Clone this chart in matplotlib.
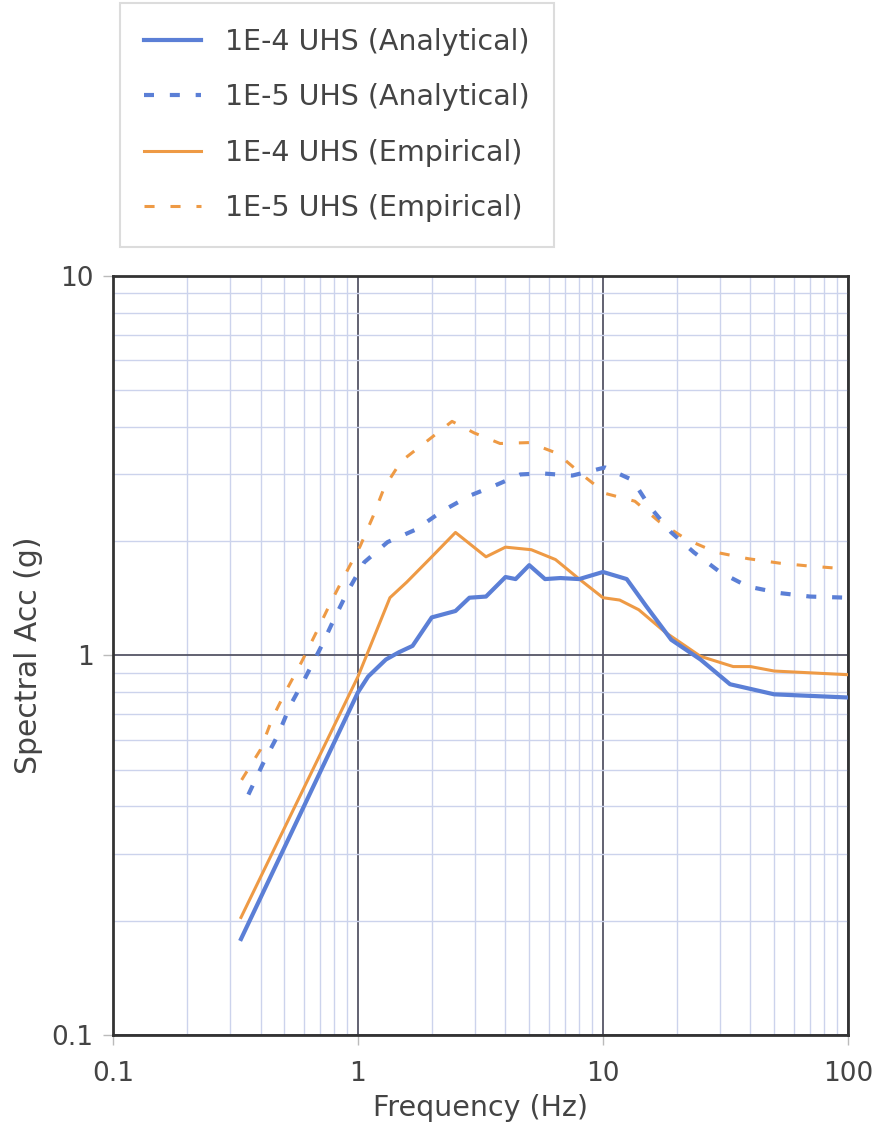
import matplotlib
matplotlib.use("Agg")
import matplotlib.pyplot as plt
from matplotlib.ticker import LogLocator, NullFormatter, FixedLocator, FixedFormatter

plt.rcParams['font.family'] = ['DejaVu Sans']

# 1E-4 UHS (Analytical)
f_a4 = [0.333, 1.0, 1.1, 1.3, 1.47, 1.67, 2.0, 2.5, 2.85, 3.33, 4.0, 4.4, 5.0, 5.8, 6.7, 8.0,
        10.0, 12.5, 15.0, 19.0, 25.0, 33.0, 50.0, 100.0]
v_a4 = [0.179, 0.80, 0.88, 0.976, 1.02, 1.06, 1.26, 1.31, 1.42, 1.43, 1.61, 1.59, 1.73, 1.59, 1.60, 1.59,
        1.66, 1.59, 1.35, 1.10, 0.976, 0.84, 0.79, 0.775]

# 1E-5 UHS (Analytical)
f_a5 = [0.357, 0.41, 0.47, 0.53, 0.61, 0.71, 0.80, 0.91, 1.06, 1.32, 1.73, 2.2, 2.87, 3.6, 4.6, 5.6,
        7.5, 10.2, 13.2, 15.5, 19.0, 23.5, 30.0, 39.0, 53.0, 70.0, 100.0]
v_a5 = [0.43, 0.52, 0.615, 0.74, 0.875, 1.06, 1.25, 1.48, 1.76, 1.99, 2.15, 2.4, 2.64, 2.8, 3.0, 3.02,
        2.98, 3.13, 2.9, 2.47, 2.11, 1.87, 1.66, 1.52, 1.46, 1.43, 1.42]

# 1E-4 UHS (Empirical)
f_e4 = [0.333, 1.0, 1.35, 1.58, 2.0, 2.5, 3.33, 4.0, 5.1, 6.4, 8.0, 10.0, 11.7, 14.0, 18.0, 25.0,
        34.0, 40.0, 50.0, 100.0]
v_e4 = [0.204, 0.88, 1.42, 1.56, 1.82, 2.11, 1.82, 1.93, 1.90, 1.79, 1.59, 1.42, 1.40, 1.32, 1.15, 0.995,
        0.935, 0.935, 0.91, 0.89]

# 1E-5 UHS (Empirical)
f_e5 = [0.335, 0.40, 0.45, 0.51, 0.59, 0.68, 0.77, 0.88, 1.02, 1.15, 1.28, 1.5, 1.9, 2.42, 2.98, 3.8,
        5.0, 6.5, 8.3, 10.3, 13.5, 17.0, 22.0, 29.0, 39.0, 53.0, 70.0, 100.0]
v_e5 = [0.47, 0.565, 0.69, 0.81, 0.965, 1.16, 1.37, 1.62, 1.94, 2.32, 2.77, 3.25, 3.66, 4.14, 3.86, 3.62,
        3.64, 3.41, 2.98, 2.67, 2.55, 2.25, 2.02, 1.87, 1.80, 1.75, 1.72, 1.69]

labels = ["1E-4 UHS (Analytical)", "1E-5 UHS (Analytical)",
          "1E-4 UHS (Empirical)", "1E-5 UHS (Empirical)"]
x_ticks = [0.1, 1, 10, 100]
x_ticklabels = ["0.1", "1", "10", "100"]
y_ticks = [0.1, 1, 10]
y_ticklabels = ["0.1", "1", "10"]

blue = "#5b7fd6"
orange = "#ee9a45"
text_col = '#444444'

fig = plt.figure(figsize=(8.76, 11.29), dpi=100)
ax = fig.add_axes([0.129, 0.0833, 0.839, 0.6722])
ax.set_xscale('log')
ax.set_yscale('log')
ax.set_xlim(0.1, 100)
ax.set_ylim(0.1, 10)

lw_b = 3.0
lw_o = 2.2
l1, = ax.plot(f_a4, v_a4, color=blue, lw=lw_b, zorder=4)
l2, = ax.plot(f_a5, v_a5, color=blue, lw=lw_b, linestyle=(0, (2.4, 3.8)), zorder=4)
l3, = ax.plot(f_e4, v_e4, color=orange, lw=lw_o, zorder=3)
l4, = ax.plot(f_e5, v_e5, color=orange, lw=lw_o, linestyle=(0, (3.3, 5.2)), zorder=3)

ax.xaxis.set_major_locator(FixedLocator(x_ticks))
ax.xaxis.set_major_formatter(FixedFormatter(x_ticklabels))
ax.yaxis.set_major_locator(FixedLocator(y_ticks))
ax.yaxis.set_major_formatter(FixedFormatter(y_ticklabels))
ax.xaxis.set_minor_locator(LogLocator(base=10, subs=range(2, 10)))
ax.yaxis.set_minor_locator(LogLocator(base=10, subs=range(2, 10)))
ax.xaxis.set_minor_formatter(NullFormatter())
ax.yaxis.set_minor_formatter(NullFormatter())
ax.grid(True, which='minor', color='#ccd3ec', lw=1.0, zorder=0)
ax.grid(True, which='major', color='#555566', lw=1.3, zorder=1)
ax.set_axisbelow(True)
ax.tick_params(which='major', length=7, width=1.0, color='#bbbbbb',
               labelsize=19, labelcolor=text_col)
ax.tick_params(axis='x', which='major', pad=12)
ax.tick_params(axis='y', which='major', pad=7)
ax.tick_params(which='minor', length=0)

for s in ax.spines.values():
    s.set_color('#333333')
    s.set_linewidth(2.0)

ax.set_xlabel("Frequency (Hz)", fontsize=20.5, color=text_col, labelpad=5)
ax.set_ylabel("Spectral Acc (g)", fontsize=21.5, color=text_col, labelpad=6)

leg = fig.legend([l1, l2, l3, l4], labels, loc='upper left',
                 bbox_to_anchor=(0.137, 0.997), fontsize=20.5, frameon=True,
                 fancybox=False, handlelength=2.0, handletextpad=0.85,
                 labelspacing=0.97, borderpad=0.85, borderaxespad=0.0)
leg.get_frame().set_edgecolor('#d4d4d4')
leg.get_frame().set_linewidth(1.5)
for t in leg.get_texts():
    t.set_color(text_col)

fig.savefig("out.png", dpi=100)
